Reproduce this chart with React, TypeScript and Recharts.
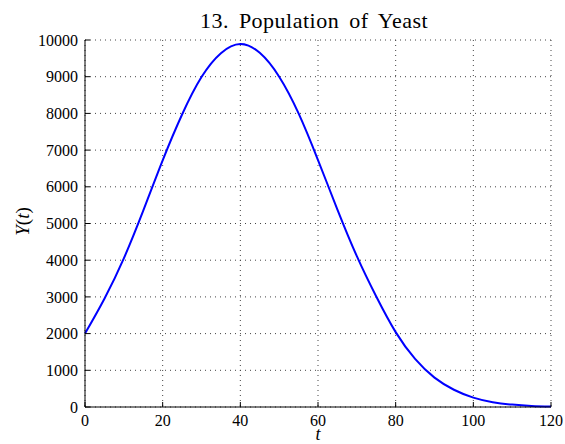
import { LineChart, Line, XAxis, YAxis, CartesianGrid } from 'recharts'

const tValues = [0, 5, 10, 15, 20, 25, 30, 35, 40, 45, 50, 55, 60, 65, 70, 75, 80, 85, 90, 95, 100, 105, 110, 115, 120]
const yValues = [2000, 2950, 4050, 5350, 6720, 7970, 8990, 9640, 9890, 9650, 9000, 8000, 6730, 5380, 4110, 3010, 2040, 1310, 800, 470, 255, 130, 65, 30, 12]
const xTicks = [0, 20, 40, 60, 80, 100, 120]
const yTicks = [0, 1000, 2000, 3000, 4000, 5000, 6000, 7000, 8000, 9000, 10000]

const data = tValues.map((t, i) => ({ t, y: yValues[i] }))

const font = '"Liberation Serif", serif'
const tickStyle = { fill: '#000', fontSize: 16, fontFamily: font }

function YLabel(props: any) {
    const vb = props.viewBox || { x: 0, y: 40, width: 85, height: 367 }
    const cx = 22
    const cy = vb.y + vb.height / 2 - 2
    return (
        <text
            x={cx}
            y={cy}
            transform={`rotate(-90 ${cx} ${cy})`}
            textAnchor="middle"
            dominantBaseline="central"
            fontFamily={font}
            fontSize={19}
            fill="#000"
        >
            <tspan fontStyle="italic">Y</tspan>
            <tspan>(</tspan>
            <tspan fontStyle="italic">t</tspan>
            <tspan>)</tspan>
        </text>
    )
}

export default function App() {
    return (
        <div style={{ position: 'absolute', left: 0, top: 0, width: 565, height: 444, background: '#fff' }}>
            <LineChart width={565} height={444} data={data} margin={{ top: 40, right: 14, bottom: 0, left: 0 }}>
                <CartesianGrid stroke="#444" strokeDasharray="1 4" />

                <XAxis
                    dataKey="t"
                    type="number"
                    domain={[0, 120]}
                    ticks={xTicks}
                    height={37}
                    tick={tickStyle}
                    tickSize={-5}
                    tickMargin={13}
                    axisLine={{ stroke: '#000' }}
                    tickLine={{ stroke: '#000' }}
                    label={{ value: 't', position: 'insideBottom', offset: 4, style: { fontStyle: 'italic', fontFamily: font, fontSize: 18, fill: '#000' } }}
                />
                <XAxis
                    xAxisId="top"
                    orientation="top"
                    type="number"
                    domain={[0, 120]}
                    ticks={xTicks}
                    height={0}
                    tickSize={-5}
                    tickFormatter={() => ''}
                    axisLine={{ stroke: '#000' }}
                    tickLine={{ stroke: '#000' }}
                />

                <YAxis
                    type="number"
                    domain={[0, 10000]}
                    ticks={yTicks}
                    width={85}
                    tick={tickStyle}
                    tickSize={-5}
                    tickMargin={12}
                    axisLine={{ stroke: '#000' }}
                    tickLine={{ stroke: '#000' }}
                    label={<YLabel />}
                />
                <YAxis
                    yAxisId="right"
                    orientation="right"
                    type="number"
                    domain={[0, 10000]}
                    ticks={yTicks}
                    width={0}
                    tickSize={-5}
                    tickFormatter={() => ''}
                    axisLine={{ stroke: '#000' }}
                    tickLine={{ stroke: '#000' }}
                />

                <Line
                    type="natural"
                    dataKey="y"
                    stroke="#0000ff"
                    strokeWidth={2}
                    dot={false}
                    isAnimationActive={false}
                />
            </LineChart>
            <svg width={565} height={444} style={{ position: 'absolute', left: 0, top: 0, pointerEvents: 'none' }}>
                <text x={314} y={27.5} textAnchor="middle" fontFamily={font} fontSize={22} wordSpacing={4} letterSpacing={0.5} fill="#000">
                    13. Population of Yeast
                </text>
            </svg>
        </div>
    )
}
